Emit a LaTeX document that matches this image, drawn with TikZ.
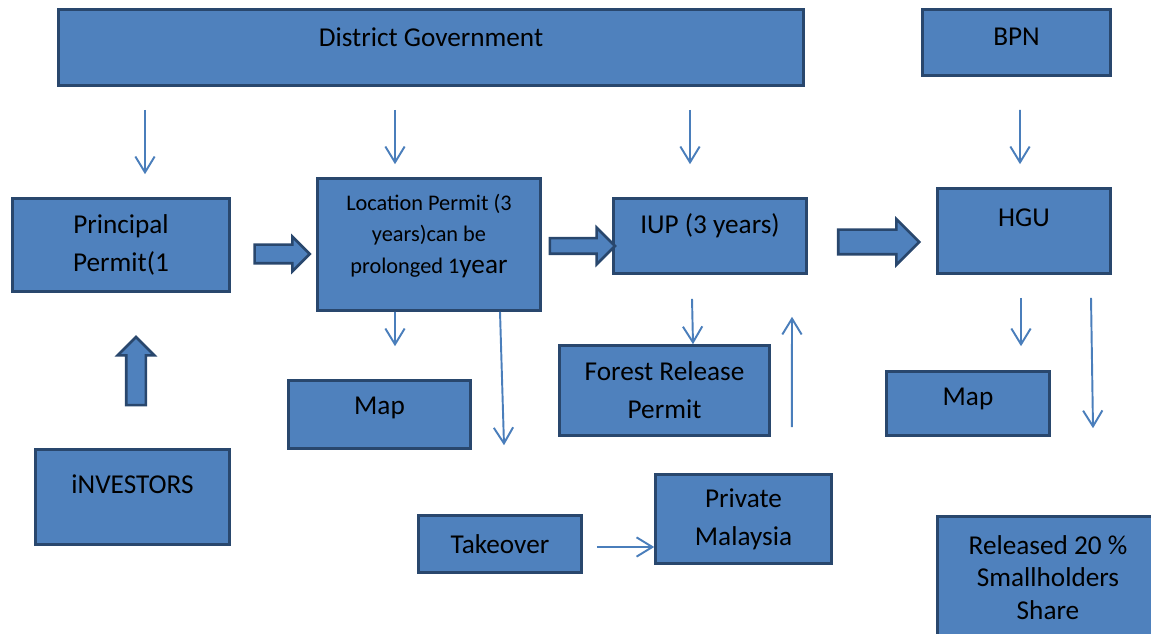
\documentclass[tikz,border=0pt]{standalone}
\usepackage{fontspec}
\setmainfont{Carlito}
\usepackage{xcolor}
\usepackage{tikz}
\usetikzlibrary{calc}
\usetikzlibrary{arrows.meta}
\usetikzlibrary{shapes.arrows}
\definecolor{boxfill}{RGB}{79,129,189}
\definecolor{boxline}{RGB}{41,71,109}
\definecolor{linkblue}{RGB}{74,126,187}
\tikzset{
    bluebox/.style = {rectangle, draw=boxline, line width=1.5pt, fill=boxfill, align=center, inner sep=0pt, font=\fontsize{15.5}{21.5}\selectfont},
    boxtext/.style = {align=center, inner sep=0pt, font=\fontsize{15.5}{21.5}\selectfont},
    fatarrow/.style = {single arrow, draw=boxline, line width=1.5pt, fill=boxfill, inner xsep=0pt},
}

\begin{document}
\begin{tikzpicture}[
	x=0.02cm,
	y=-0.02cm
]
\tikzset{
    edgea/.style = {-{Straight Barb[length=9pt,width=11pt]}, linkblue, line width=1.1pt},
}
\useasboundingbox (0,0) rectangle (1151,634);
\clip (0,0) rectangle (1151,634);
\node[bluebox, minimum width=14.9cm, minimum height=1.52cm, label={[boxtext,yshift=0.21cm]center:District Government}] at (431,47.5) (gov) {};
\node[bluebox, minimum width=3.76cm, minimum height=1.32cm, label={[boxtext,yshift=0.11cm]center:BPN}] at (1016.5,42.5) (bpn) {};
\node[bluebox, minimum width=4.34cm, minimum height=1.86cm] at (121,245) (principal) {Principal\\Permit(1};
\node[bluebox, minimum width=4.46cm, minimum height=2.64cm, label={[boxtext,font=\fontsize{12.7}{18}\selectfont,yshift=0.17cm]center:Location Permit (3\\years)can be\\prolonged 1{\fontsize{15.5}{18}\selectfont year}}] at (429,244.5) (location) {};
\node[bluebox, minimum width=3.86cm, minimum height=1.5cm, label={[boxtext,yshift=0.2cm]center:IUP (3 years)}] at (710,236) (iup) {};
\node[bluebox, minimum width=3.46cm, minimum height=1.7cm, label={[boxtext,yshift=0.26cm]center:HGU}] at (1024,231) (hgu) {};
\node[bluebox, minimum width=3.64cm, minimum height=1.36cm, label={[boxtext,yshift=0.13cm]center:Map}] at (379.5,414.5) (map1) {};
\node[bluebox, minimum width=4.2cm, minimum height=1.8cm] at (664.5,390.5) (forest) {Forest Release\\Permit};
\node[bluebox, minimum width=3.26cm, minimum height=1.28cm, label={[boxtext,yshift=0.09cm]center:Map}] at (968,403.5) (map2) {};
\node[bluebox, minimum width=3.88cm, minimum height=1.9cm, label={[boxtext,yshift=0.26cm]center:iNVESTORS}] at (132.5,497) (investors) {};
\node[bluebox, minimum width=3.26cm, minimum height=1.14cm] at (500,544) (takeover) {Takeover};
\node[bluebox, minimum width=3.52cm, minimum height=1.78cm] at (743.5,519) (private) {Private\\Malaysia};
\node[bluebox, minimum width=4.42cm, minimum height=2.44cm, font=\fontsize{15.5}{18.7}\selectfont] at (1048,577.5) (released) {Released 20 \%\\Smallholders\\Share};
\node[fatarrow, minimum height=1.1cm, inner ysep=0.16cm, single arrow head extend=0.16cm] at (277.5,254) (fat1) {};
\node[fatarrow, minimum height=1.3cm, inner ysep=0.13cm, single arrow head extend=0.21cm] at (578.5,246) (fat2) {};
\node[fatarrow, minimum height=1.62cm, inner ysep=0.22cm, single arrow head extend=0.21cm] at (872.5,242) (fat3) {};
\node[fatarrow, minimum height=1.36cm, inner ysep=0.17cm, single arrow head extend=0.17cm, rotate=90] at (136,376) (fatup) {};
\draw[edgea] ($(gov.south)+(-286,23)$) -- ($(principal.north)+(24,-23)$);
\draw[edgea] ($(gov.south)+(-36,23)$) -- ($(location.north)+(-34,-13)$);
\draw[edgea] ($(gov.south)+(259,23)$) -- ($(iup.north)+(-20,-33)$);
\draw[edgea] ($(bpn.south)+(3.5,33)$) -- ($(hgu.north)+(-4,-23)$);
\draw[edgea] ($(location.south)+(-34,0)$) -- ($(map1.north)+(15.5,-33)$);
\draw[edgea] ($(location.south)+(71,0)$) -- ($(takeover.north)+(4,-69)$);
\draw[edgea] ($(iup.south)+(-18,24)$) -- ($(forest.north)+(28.5,0)$);
\draw[edgea] ($(forest.east)+(21,36.5)$) -- ($(iup.south)+(82,42)$);
\draw[edgea] ($(takeover.east)+(14,3)$) -- ($(private.west)+(0,28)$);
\draw[edgea] ($(hgu.south)+(-3,23)$) -- ($(map2.north)+(53,-24)$);
\draw[edgea] ($(hgu.south)+(67,23)$) -- ($(released.north)+(45,-87)$);
\end{tikzpicture}
\end{document}
